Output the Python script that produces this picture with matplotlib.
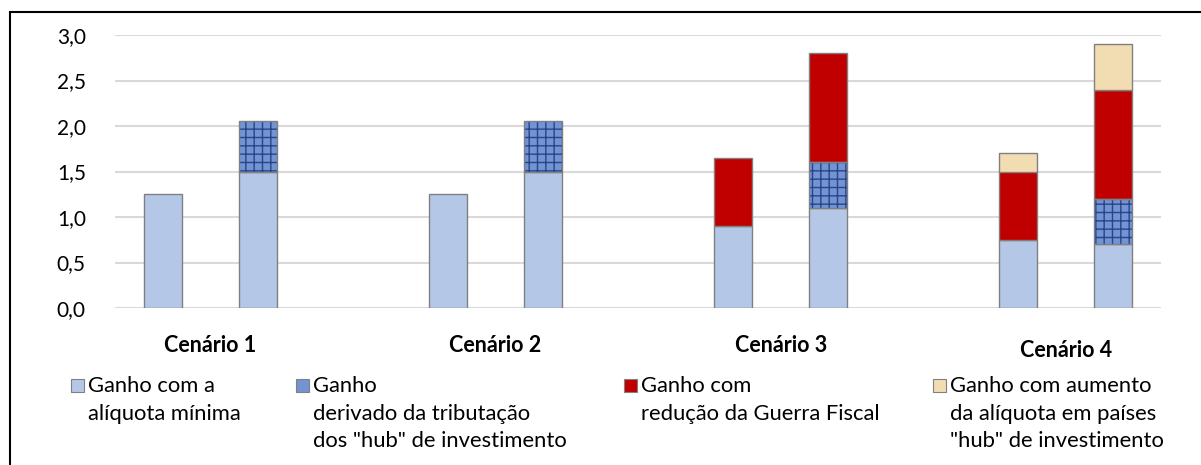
import numpy as np
import matplotlib
matplotlib.use("Agg")
import matplotlib.pyplot as plt
from matplotlib.patches import Rectangle

plt.rcParams['font.family'] = ['Lato', 'DejaVu Sans']

# dados
cenarios = ["Cenário 1", "Cenário 2", "Cenário 3", "Cenário 4"]
pos = [0, 1, 3, 4, 6, 7, 9, 10]
aliq_min = [1.25, 1.5, 1.25, 1.5, 0.9, 1.1, 0.75, 0.7]
hub_trib = [0, 0.55, 0, 0.55, 0, 0.5, 0, 0.5]
guerra = [0, 0, 0, 0, 0.75, 1.2, 0.75, 1.2]
aumento = [0, 0, 0, 0, 0, 0, 0.2, 0.5]
legendas = ["Ganho com a\nalíquota mínima",
            "Ganho\nderivado da tributação\ndos \"hub\" de investimento",
            "Ganho com\nredução da Guerra Fiscal",
            "Ganho com aumento\nda alíquota em países\n\"hub\" de investimento"]
yticks = [0, 0.5, 1.0, 1.5, 2.0, 2.5, 3.0]

W, H = 1201, 465
fig = plt.figure(figsize=(W / 100, H / 100), dpi=100)
ax = fig.add_axes([115 / W, 1 - 308 / H, (1161 - 115) / W, (308 - 35) / H])

azul = "#B4C7E7"
azul_pad = "#7393D3"
azul_esc = "#27468A"
vermelho = "#C00000"
bege = "#F2DCB2"
borda = "#808080"
w = 0.4

bot = np.zeros(len(pos))
ax.bar(pos, aliq_min, w, bottom=bot, color=azul, edgecolor=borda, lw=1, zorder=3)
bot += aliq_min
m = np.array(hub_trib) > 0
p = np.array(pos)[m]
ax.bar(p, np.array(hub_trib)[m], w, bottom=bot[m], color=azul_pad,
       edgecolor=azul_esc, hatch="++", lw=0, zorder=3)
ax.bar(p, np.array(hub_trib)[m], w, bottom=bot[m], color="none",
       edgecolor=borda, lw=1, zorder=4)
bot += hub_trib
m = np.array(guerra) > 0
ax.bar(np.array(pos)[m], np.array(guerra)[m], w, bottom=bot[m], color=vermelho,
       edgecolor=borda, lw=1, zorder=3)
bot += guerra
m = np.array(aumento) > 0
ax.bar(np.array(pos)[m], np.array(aumento)[m], w, bottom=bot[m], color=bege,
       edgecolor=borda, lw=1, zorder=3)

ax.set_xlim(-0.5, 10.5)
ax.set_ylim(0, 3.0)
ax.set_yticks(yticks)
ax.set_yticklabels([f"{v:.1f}".replace(".", ",") for v in yticks], fontsize=15)
ax.tick_params(axis="y", length=0, pad=21)
ax.set_xticks([])
ax.yaxis.grid(True, color="#D9D9D9", lw=1.5, zorder=0)
for s in ax.spines.values():
    s.set_visible(False)

# rótulos dos cenários
for i, c in enumerate(cenarios):
    x = (pos[2 * i] + pos[2 * i + 1]) / 2
    dy = 0.41 if i < 3 else 0.465
    ax.text(x, -dy, c, ha="center", va="center", fontsize=15.5,
            fontweight="bold")

# legenda manual
cores = [azul, azul_pad, vermelho, bege]
hx = [71, 296, 624, 933]
for i in range(4):
    x0 = hx[i] / W
    fig.patches.append(Rectangle((x0, 1 - 392 / H), 13 / W, 13 / H,
                                 transform=fig.transFigure, facecolor=cores[i],
                                 edgecolor=borda, lw=0.8))
    fig.text((hx[i] + 17) / W, 1 - 376 / H, legendas[i], ha="left", va="top",
             fontsize=15.8, linespacing=1.47)

# moldura
fig.patches.append(Rectangle((10 / W, -0.05), 1.1, 1.05 - 12 / H,
                             transform=fig.transFigure, fill=False,
                             edgecolor="black", lw=1.5))

fig.savefig("out.png", dpi=100)
